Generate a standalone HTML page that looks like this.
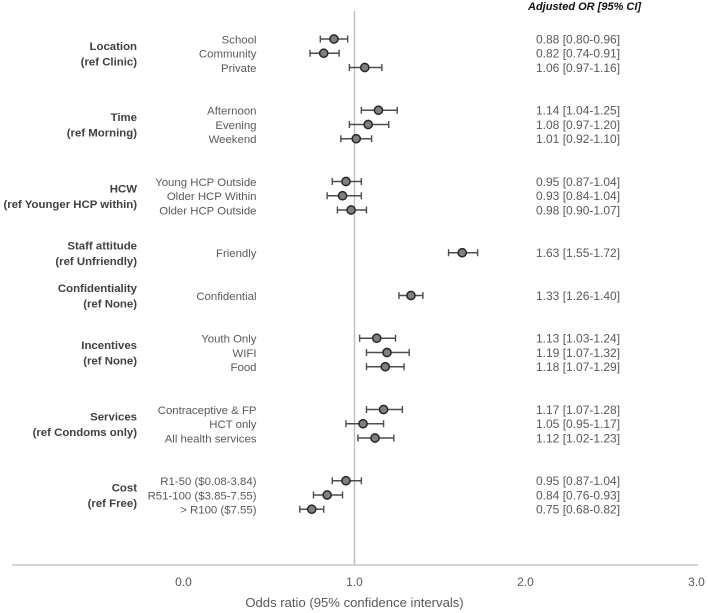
<!DOCTYPE html>
<html>
<head>
<meta charset="utf-8">
<style>
html,body{margin:0;padding:0;background:#fff;width:708px;height:613px;overflow:hidden}
svg{display:block}
text{font-family:"Liberation Sans",sans-serif;fill:#595959}
.cat{font-size:11.4px}
.val,.tick{font-size:12px}
.grp{font-size:11.4px;font-weight:bold;fill:#404040}
.head{font-size:11px;font-weight:bold;font-style:italic;fill:#111}
.title{font-size:13.1px}
</style>
</head>
<body>
<svg id="chart" xmlns="http://www.w3.org/2000/svg" width="708" height="613" viewBox="0 0 708 613" style="filter:blur(0.3px)">
  <text class="head" x="528" y="10">Adjusted OR [95% CI]</text>
  <text class="title" x="354.5" y="607" text-anchor="middle">Odds ratio (95% confidence intervals)</text>
</svg>
<script>
const groupNames = ['Location','Time','HCW','Staff attitude','Confidentiality','Incentives','Services','Cost'];
const groupRefs = ['(ref Clinic)','(ref Morning)','(ref Younger HCP within)','(ref Unfriendly)','(ref None)','(ref None)','(ref Condoms only)','(ref Free)'];
const groupSizes = [3,3,3,1,1,3,3,3];
const categories = ['School','Community','Private','Afternoon','Evening','Weekend','Young HCP Outside','Older HCP Within','Older HCP Outside','Friendly','Confidential','Youth Only','WIFI','Food','Contraceptive & FP','HCT only','All health services','R1-50 ($0.08-3.84)','R51-100 ($3.85-7.55)','> R100 ($7.55)'];
const orValues = [0.88,0.82,1.06,1.14,1.08,1.01,0.95,0.93,0.98,1.63,1.33,1.13,1.19,1.18,1.17,1.05,1.12,0.95,0.84,0.75];
const ciLow = [0.80,0.74,0.97,1.04,0.97,0.92,0.87,0.84,0.90,1.55,1.26,1.03,1.07,1.07,1.07,0.95,1.02,0.87,0.76,0.68];
const ciHigh = [0.96,0.91,1.16,1.25,1.20,1.10,1.04,1.04,1.07,1.72,1.40,1.24,1.32,1.29,1.28,1.17,1.23,1.04,0.93,0.82];
const xTicks = [0,1,2,3];
const NS = 'http://www.w3.org/2000/svg';
const svg = document.getElementById('chart');
const xScale = v => 183.5 + 171 * v;
const yScale = slot => 39 + 14.25 * slot;
const axisY = 565;
function mk(tag, attrs, text, parent) {
  const el = document.createElementNS(NS, tag);
  for (const k in attrs) el.setAttribute(k, attrs[k]);
  if (text !== undefined) el.textContent = text;
  (parent || svg).appendChild(el);
  return el;
}
const xAxis = mk('line', {x1: 12, x2: 698, y1: axisY, y2: axisY, stroke: '#bfbfbf', 'stroke-width': 1.2});


const refLine = mk('line', {x1: xScale(1), x2: xScale(1), y1: 11, y2: axisY, stroke: '#bfbfbf', 'stroke-width': 1.4});


xTicks.forEach(t => {
  const el = mk('text', {class: 'tick', x: xScale(t), y: 586, 'text-anchor': 'middle'}, t.toFixed(1));
  
  
});
let slot = 0, idx = 0;
groupNames.forEach((name, g) => {
  const n = groupSizes[g];
  const cy = yScale(slot + (n - 1) / 2);
  const t1 = mk('text', {class: 'grp', x: 137, y: cy - 3.5, 'text-anchor': 'end'}, name);
  
  
  const t2 = mk('text', {class: 'grp', x: 137, y: cy + 12, 'text-anchor': 'end'}, groupRefs[g]);
  
  
  for (let i = 0; i < n; i++, idx++, slot++) {
    const y = yScale(slot);
    const cat = mk('text', {class: 'cat', x: 256.5, y: y + 4.3, 'text-anchor': 'end'}, categories[idx]);
    
    
    const val = mk('text', {class: 'val', x: 536, y: y + 4.3}, orValues[idx].toFixed(2) + ' [' + ciLow[idx].toFixed(2) + '-' + ciHigh[idx].toFixed(2) + ']');
    
    
    const w = mk('path', {d: 'M' + xScale(ciLow[idx]) + ' ' + (y - 3.5) + 'v7M' + xScale(ciLow[idx]) + ' ' + y + 'H' + xScale(ciHigh[idx]) + 'M' + xScale(ciHigh[idx]) + ' ' + (y - 3.5) + 'v7', fill: 'none', stroke: '#4d4d4d', 'stroke-width': 1.4});
    
    
    const p = mk('circle', {cx: xScale(orValues[idx]), cy: y, r: 4.1, fill: '#7f7f7f', stroke: '#262626', 'stroke-width': 1.5});
    
    
  }
  slot += 2;
});
</script>
</body>
</html>
